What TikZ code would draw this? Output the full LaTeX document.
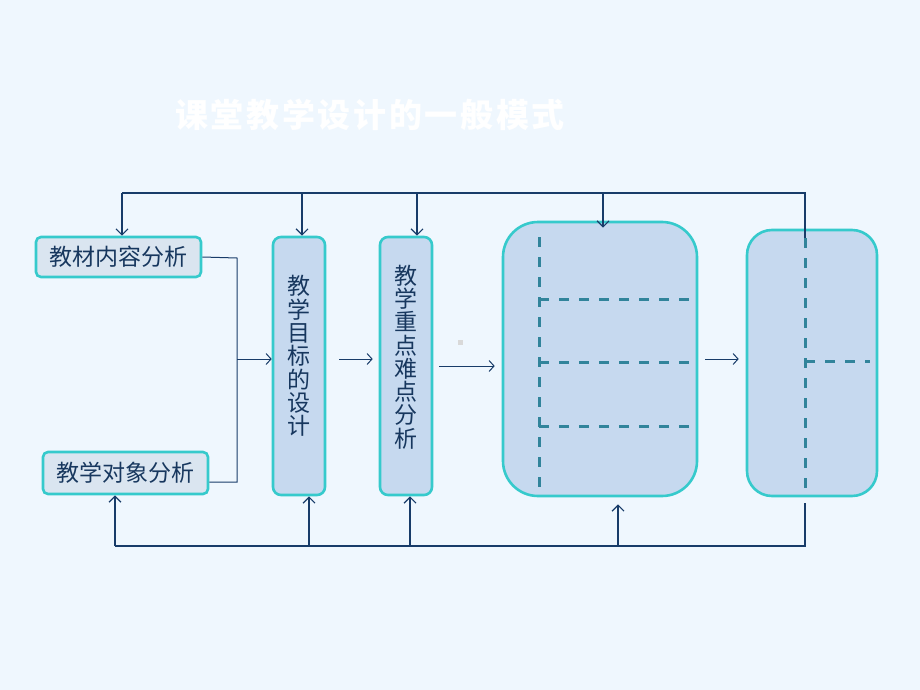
\documentclass[tikz,border=0pt]{standalone}
\usepackage{fontspec}
\usetikzlibrary{arrows.meta}
\newfontfamily\cjk{Noto Sans CJK SC}
\newfontfamily\cjktitle[LetterSpace=8]{Noto Sans CJK SC Black}
\definecolor{bgc}{RGB}{239,247,254}
\definecolor{brd}{RGB}{54,202,204}
\definecolor{fillA}{RGB}{218,229,240}
\definecolor{fillC}{RGB}{198,217,239}
\definecolor{dashc}{RGB}{49,132,155}
\definecolor{linec}{RGB}{24,60,105}
\definecolor{txtc}{RGB}{23,55,94}
\tikzset{
  box/.style={draw=brd, line width=2.6pt, inner sep=0pt, font=\cjk\fontsize{23}{23}\selectfont, text=txtc},
  vbox/.style={box, fill=fillC, rounded corners=8pt, minimum width=52pt, minimum height=258pt},
  vtext/.style={inner sep=0pt, align=center, text=txtc, font=\cjk\fontsize{23}{23.3}\selectfont},
  conn/.style={draw=linec, line width=1.2pt},
  arr/.style={conn, -{Straight Barb[length=6pt,width=12pt]}},
  thinarr/.style={draw=linec, line width=1pt, -{Straight Barb[length=5pt,width=11pt]}},
  dsh/.style={draw=dashc, line width=3pt, dash pattern=on 10pt off 10pt}
}
\begin{document}
\begin{tikzpicture}[x=1pt,y=-1pt]
\useasboundingbox (0,0) rectangle (920,690);
\fill[bgc] (0,0) rectangle (920,690);
% title
\node[text=white, font=\cjktitle\fontsize{33}{33}\selectfont, inner sep=0pt] (T) at (370,115) {课堂教学设计的一般模式};
% boxes
\node[box, fill=fillA, rounded corners=5pt, minimum width=165pt, minimum height=40pt] (A) at (118.5,257) {教材内容分析};
\node[box, fill=fillA, rounded corners=5pt, minimum width=165pt, minimum height=42pt] (B) at (125.5,473) {教学对象分析};
\node[vbox] (C) at (299,366) {};
\node[vtext] (Ct) at (299,356) {教\\学\\目\\标\\的\\设\\计};
\node[vbox] (D) at (406,366) {};
\node[vtext] (Dt) at (406,357) {教\\学\\重\\点\\难\\点\\分\\析};
\node[box, fill=fillC, rounded corners=35pt, minimum width=194pt, minimum height=274pt] (E) at (600,359) {};
\node[box, fill=fillC, rounded corners=25pt, minimum width=130pt, minimum height=266pt] (F) at (812,363) {};
\fill[black!15] (457.5,339.5) rectangle (462.5,344.5);
% dashed structure inside E
\coordinate (e1) at (539,237);
\coordinate (e2) at (539,492);
\draw[dsh] (e1) -- (e2);
\foreach \yy in {299,362,426} {
  \draw[dsh] (539,\yy) -- (690,\yy);
}
% dashed structure inside F
\coordinate (f1) at (805,238);
\coordinate (f2) at (805,492);
\draw[dsh] (f1) -- (f2);
\draw[dsh] (805,361) -- (870,361);
% top feedback line
\coordinate (tA) at (122,193);
\coordinate (tC) at (302,193);
\coordinate (tD) at (417,193);
\coordinate (tE) at (603,193);
\coordinate (tF) at (805,193);
\draw[conn] (tA) -- (tF) -- (f1);
\draw[arr] (tA) -- (A.north -| tA);
\draw[arr] (tC) -- (C.north -| tC);
\draw[arr] (tD) -- (D.north -| tD);
\draw[arr] (tE) -- ([yshift=-7pt]E.north -| tE);
% bottom feedback line
\coordinate (bB) at (115,546);
\coordinate (bC) at (309,546);
\coordinate (bD) at (410,546);
\coordinate (bE) at (618,546);
\coordinate (bF) at (805,546);
\coordinate (bF2) at (805,503);
\draw[conn] (bB) -- (bF) -- (bF2);
\draw[arr] (bB) -- (B.south -| bB);
\draw[arr] (bC) -- (C.south -| bC);
\draw[arr] (bD) -- (D.south -| bD);
\draw[arr] (bE) -- ([yshift=-7pt]E.south -| bE);
% merge of A and B into C
\coordinate (j1) at (237,258);
\coordinate (j2) at (237,482);
\coordinate (j3) at (237,359);
\draw[conn, line width=1pt] (A.east) -- (j1) -- (j2) -- (B.east |- j2);
\draw[thinarr] (j3) -- (C.west |- j3);
% forward arrows
\draw[thinarr] ([xshift=13pt,yshift=7pt]C.east) -- ([xshift=-6pt,yshift=7pt]D.west);
\draw[thinarr] ([xshift=6pt]D.east) -- ([xshift=-7pt]E.west |- D.east);
\draw[thinarr] ([xshift=7pt]E.east) -- ([xshift=-7pt]F.west |- E.east);
\end{tikzpicture}
\end{document}
